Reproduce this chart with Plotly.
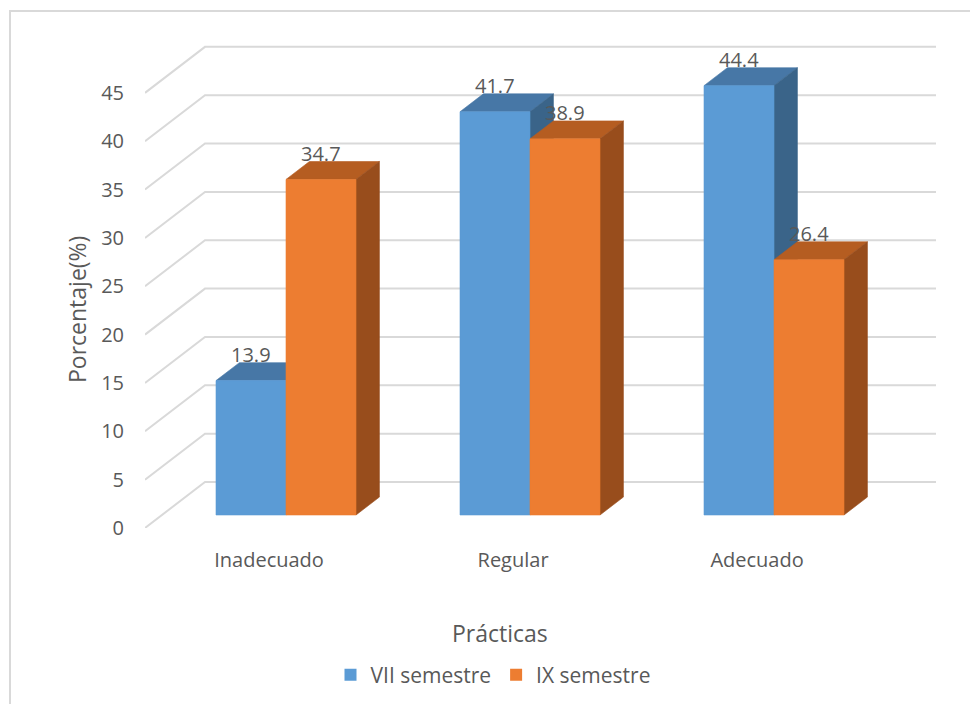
import plotly.graph_objects as go

# ---------------- data ----------------
categories = ["Inadecuado", "Regular", "Adecuado"]
vii_semestre = [13.9, 41.7, 44.4]
ix_semestre = [34.7, 38.9, 26.4]
series_names = ["VII semestre", "IX semestre"]
tick_values = [0, 5, 10, 15, 20, 25, 30, 35, 40, 45]
x_title = "Prácticas"
y_title = "Porcentaje(%)"

# ---------------- styling / 3D geometry (data units) ----------------
PX_PER_CAT = 244.0
PX_PER_UNIT = 9.67
BAR_W = 70 / PX_PER_CAT
DEPTH_X = 60 / PX_PER_CAT          # full floor depth, x part
DEPTH_Y = 46 / PX_PER_UNIT         # full floor depth, y part
FRONT_F = 13 / 46                  # bar front position within depth
BAR_F = 0.39                       # bar depth fraction
FX = -FRONT_F * DEPTH_X            # front-plane offset from bar front
FY = -FRONT_F * DEPTH_Y
BDX, BDY = BAR_F * DEPTH_X, BAR_F * DEPTH_Y
X_RANGE = [-0.5779, -0.5779 + 800 / PX_PER_CAT]
Y_RANGE = [FY, FY + 498 / PX_PER_UNIT]
XL = X_RANGE[0]
XR = XL + (936 - 145) / PX_PER_CAT

colors = {
    0: dict(front="#5B9BD5", top="#4777A6", side="#3A6489"),
    1: dict(front="#ED7D31", top="#B55D21", side="#984D1C"),
}
TEXT = "#595959"
GRID = "#D9D9D9"
FONT = "Open Sans"

fig = go.Figure()

# gridlines (floor diagonal + back wall)
gx, gy = [], []
for v in tick_values:
    gx += [XL, XL + DEPTH_X, XR, None]
    gy += [v + FY, v + FY + DEPTH_Y, v + FY + DEPTH_Y, None]
fig.add_trace(go.Scatter(x=gx, y=gy, mode="lines", line=dict(color=GRID, width=2),
                         hoverinfo="skip", showlegend=False))


def poly(xs, ys, color):
    fig.add_trace(go.Scatter(x=xs + [xs[0]], y=ys + [ys[0]], mode="lines", fill="toself",
                             fillcolor=color, line=dict(color=color, width=0.6),
                             hoverinfo="skip", showlegend=False))


annotations = []
for i, cat in enumerate(categories):
    for s, vals in enumerate([vii_semestre, ix_semestre]):
        v = vals[i]
        xl = i - BAR_W if s == 0 else i
        xr = xl + BAR_W
        c = colors[s]
        # top face
        poly([xl, xr, xr + BDX, xl + BDX], [v, v, v + BDY, v + BDY], c["top"])
        # side face
        poly([xr, xr + BDX, xr + BDX, xr], [0, BDY, v + BDY, v], c["side"])
        # front face
        poly([xl, xr, xr, xl], [0, 0, v, v], c["front"])
        annotations.append(dict(x=(xl + xr) / 2, y=v + 2.7, text=f"{v}", showarrow=False,
                                xref="x", yref="y", yanchor="middle",
                                font=dict(family=FONT, size=20, color=TEXT)))

# legend entries
for s, name in enumerate(series_names):
    fig.add_trace(go.Bar(x=[None], y=[None], name=name,
                         marker=dict(color=colors[s]["front"], line=dict(width=0))))

annotations.append(dict(x=(500 - 145) / 800, y=(528 - 633) / 498, xref="paper", yref="paper",
                        text=x_title, showarrow=False, yanchor="middle",
                        font=dict(family=FONT, size=23, color=TEXT)))
annotations.append(dict(x=(77 - 145) / 800, y=(528 - 310) / 498, xref="paper", yref="paper",
                        text=y_title, showarrow=False, textangle=-90, xanchor="center",
                        yanchor="middle", font=dict(family=FONT, size=23, color=TEXT)))

fig.update_layout(
    width=970, height=704,
    margin=dict(l=145, r=25, t=30, b=176),
    paper_bgcolor="white", plot_bgcolor="rgba(0,0,0,0)",
    font=dict(family=FONT, color=TEXT),
    annotations=annotations,
    showlegend=True,
    legend=dict(orientation="h", xref="container", yref="container", x=493 / 970,
                xanchor="center", y=1 - 675 / 704, yanchor="middle",
                font=dict(family=FONT, size=21, color=TEXT), itemclick=False),
    shapes=[dict(type="rect", xref="paper", yref="paper",
                 x0=(10 - 145) / 800, x1=1.2, y0=-0.5, y1=(528 - 11) / 498,
                 line=dict(color="#D9D9D9", width=2), fillcolor="rgba(0,0,0,0)", layer="below")],
)
fig.update_xaxes(type="linear", range=X_RANGE, showgrid=False, zeroline=False, showline=False,
                 tickvals=[i + FX for i in range(len(categories))], ticktext=categories,
                 ticks="", ticklabelstandoff=18, tickfont=dict(family=FONT, size=20, color=TEXT),
                 fixedrange=True)
fig.update_yaxes(range=Y_RANGE, showgrid=False, zeroline=False, showline=False,
                 tickvals=[v + FY for v in tick_values], ticktext=[str(v) for v in tick_values],
                 ticks="", ticklabelstandoff=20, tickfont=dict(family=FONT, size=20, color=TEXT),
                 fixedrange=True)

fig.write_html("out.html")
